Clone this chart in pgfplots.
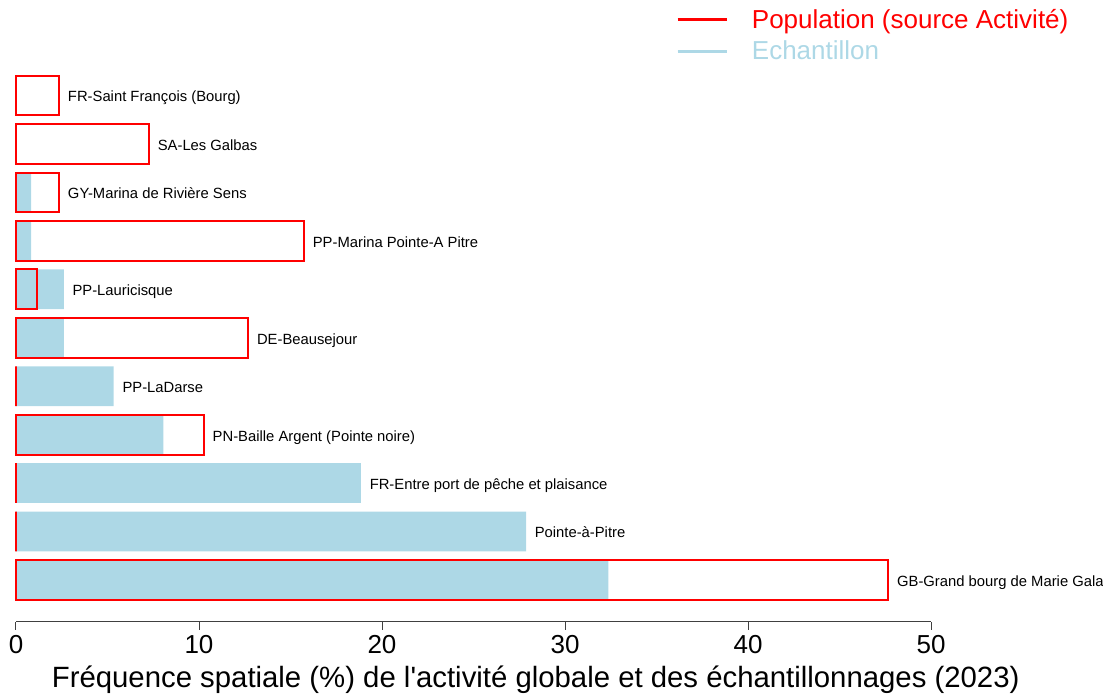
\documentclass[border=0pt]{standalone}
\usepackage{fontspec}
\setmainfont{Liberation Sans}[Ligatures=TeXOff]
\usepackage{pgfplots}
\pgfplotsset{compat=1.18}
\definecolor{lblue}{HTML}{ADD8E6}
\newcommand{\bigf}{\fontsize{19.5}{23}\selectfont}
\newcommand{\labf}{\fontsize{22}{26}\selectfont}
\newcommand{\smallf}{\fontsize{11.1}{13}\selectfont}
\begin{document}
\begin{tikzpicture}
\begin{axis}[
  at={(0pt,0pt)}, anchor=south west,
  scale only axis, width=686.25pt, height=422.1pt,
  xmin=0, xmax=50, ymin=-0.867, ymax=10.75,
  axis x line*=bottom, axis y line=none,
  ytick=\empty,
  xtick={0,10,20,30,40,50},
  tick align=outside, major tick length=6pt,
  x axis line style={line width=0.75pt, black!75},
  x tick style={line width=0.75pt, black!75},
  /pgf/number format/assume math mode=true,
  xticklabel style={font=\bigf, inner sep=0pt, yshift=-4pt},
  xlabel={Fréquence spatiale (\%) de l'activité globale et des échantillonnages (2023)},
  xlabel style={font=\labf, at={(axis description cs:0.568,0)}, anchor=center, yshift=-43.5pt},
  clip=false,
  reverse legend,
  legend style={at={(axis description cs:0.7213,1.0887)}, anchor=north west, draw=none, fill=none,
    inner sep=0pt, outer sep=0pt, row sep=7.75pt, font=\bigf, nodes={inner sep=0pt}},
  legend cell align=left,
]
\addplot[xbar, bar shift=0pt, bar width=0.82, fill=lblue, draw=none,
  legend image code/.code={\draw[lblue, line width=2pt] (0pt,0pt) -- (36.75pt,0pt); \path[draw=none,fill=none] (0pt,0pt) -- (55.75pt,0pt);}]
  coordinates {
  (0,10) (0,9) (0.82,8) (0.82,7) (2.61,6) (2.61,5) (5.34,4) (8.05,3) (18.85,2) (27.87,1) (32.37,0)
  };
\addplot[xbar, bar shift=0pt, bar width=0.82, fill=none, draw=red, line width=1.5pt,
  legend image code/.code={\draw[red, line width=2.4pt] (0pt,0pt) -- (36.75pt,0pt); \path[draw=none,fill=none] (0pt,0pt) -- (55.75pt,0pt);}]
  coordinates {
  (2.36,10) (7.27,9) (2.36,8) (15.74,7) (1.13,6) (12.69,5) (0,4) (10.27,3) (0,2) (0,1) (47.67,0)
  };
\legend{\textcolor{lblue}{Echantillon},\textcolor{red}{Population (source Activité)}}
\begin{scope}[every node/.style={anchor=base west, inner sep=0pt, xshift=6.4pt, yshift=-4.8pt, font=\smallf}]
\node at (axis cs:2.36,10) {FR-Saint François (Bourg)};
\node at (axis cs:7.27,9) {SA-Les Galbas};
\node at (axis cs:2.36,8) {GY-Marina de Rivière Sens};
\node at (axis cs:15.74,7) {PP-Marina Pointe-A Pitre};
\node at (axis cs:2.61,6) {PP-Lauricisque};
\node at (axis cs:12.69,5) {DE-Beausejour};
\node at (axis cs:5.34,4) {PP-LaDarse};
\node at (axis cs:10.27,3) {PN-Baille Argent (Pointe noire)};
\node at (axis cs:18.85,2) {FR-Entre port de pêche et plaisance};
\node at (axis cs:27.87,1) {Pointe-à-Pitre};
\node at (axis cs:47.67,0) {GB-Grand bourg de Marie Galante};
\end{scope}
\end{axis}
\pgfresetboundingbox
\path[use as bounding box] (-12pt,-57pt) rectangle (815.25pt,466.5pt);
\end{tikzpicture}
\end{document}
